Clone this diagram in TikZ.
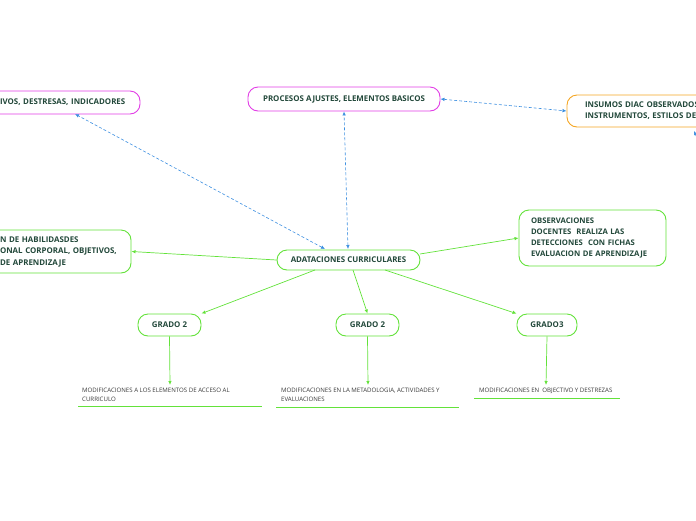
\documentclass[tikz,border=0pt]{standalone}
\usepackage{fontspec}
\setmainfont{Open Sans}
\usetikzlibrary{arrows.meta}
\definecolor{mag}{HTML}{E23DE6}
\definecolor{org}{HTML}{F5A623}
\definecolor{grn}{HTML}{63E23A}
\definecolor{blu}{HTML}{3C8FE0}
\definecolor{txt}{HTML}{22483A}
\definecolor{small}{HTML}{3A3A3A}
\tikzset{
  topic/.style={rounded corners=10pt, line width=0.9pt, fill=white, text=txt,
    font=\fontsize{7.9}{10}\selectfont\bfseries, inner ysep=0pt, align=left},
  magbox/.style={topic, draw=mag},
  orgbox/.style={topic, draw=org},
  grnbox/.style={topic, draw=grn},
  dashlink/.style={draw=blu, densely dashed, line width=0.6pt, {Latex[length=4pt,width=3.5pt]}-{Latex[length=4pt,width=3.5pt]}},
  solidlink/.style={draw=grn, line width=0.7pt, -{Latex[length=4pt,width=3.5pt]}},
  subtext/.style={text=small, font=\fontsize{6.1}{9}\selectfont, align=left, anchor=north west, inner sep=0pt},
  uline/.style={draw=grn, line width=1pt}
}
\begin{document}
\begin{tikzpicture}[x=1pt,y=-1pt]
\useasboundingbox (0,0) rectangle (696,520);
% nodes
\node[magbox, minimum width=152pt, minimum height=23pt, inner xsep=12pt, text width=128pt] (tl) at (64,102.5) {IVOS, DESTRESAS, INDICADORES};
\node[magbox, minimum width=192pt, minimum height=24pt, align=center] (proc) at (344,99) {PROCESOS AJUSTES, ELEMENTOS BASICOS};
\node[orgbox, minimum width=180pt, minimum height=32pt, inner xsep=18pt, text width=144pt, font=\fontsize{7.9}{11}\selectfont\bfseries] (ins) at (657,111) {INSUMOS DIAC OBSERVADOS\\INSTRUMENTOS, ESTILOS DE};
\node[grnbox, minimum width=145pt, minimum height=43pt, inner xsep=14pt, text width=117pt, font=\fontsize{7.9}{11.5}\selectfont\bfseries] (lft) at (58.5,251.5) {N DE HABILIDASDES\\ONAL CORPORAL, OBJETIVOS,\\DE APRENDIZAJE};
\node[grnbox, minimum width=143pt, minimum height=20pt, align=center] (ada) at (348.5,260) {ADATACIONES CURRICULARES};
\node[grnbox, minimum width=147pt, minimum height=56pt, inner xsep=12pt, text width=123pt, font=\fontsize{7.7}{11.3}\selectfont\bfseries] (obs) at (592.5,238) {OBSERVACIONES\\DOCENTES\ \ REALIZA LAS\\DETECCIONES\ \ CON FICHAS\\EVALUACION DE APRENDIZAJE};
\node[grnbox, minimum width=63pt, minimum height=22pt, align=center] (g1) at (169.5,325) {GRADO 2};
\node[grnbox, minimum width=63pt, minimum height=22pt, align=center] (g2) at (367.5,325) {GRADO 2};
\node[grnbox, minimum width=60pt, minimum height=22pt, align=center] (g3) at (547,325) {GRADO3};
% sub texts
\node[subtext] (s1) at (82,387.5) {MODIFICACIONES A LOS ELEMENTOS DE ACCESO AL\\CURRICULO};
\node[subtext] (s2) at (281,387.5) {MODIFICACIONES EN LA METADOLOGIA, ACTIVIDADES Y\\EVALUACIONES};
\node[subtext] (s3) at (479,387.5) {MODIFICACIONES EN\ \ OBJECTIVO Y DESTREZAS};
\coordinate (u1a) at (78,406); \coordinate (u1b) at (262,406);
\coordinate (u2a) at (276,407); \coordinate (u2b) at (459,407);
\coordinate (u3a) at (474,398); \coordinate (u3b) at (620,398);
\draw[uline] (u1a) -- (u1b);
\draw[uline] (u2a) -- (u2b);
\draw[uline] (u3a) -- (u3b);
% dashed links
\coordinate (adaA) at (325,249);
\coordinate (adaB) at (348,249);
\coordinate (tlB) at (75,114);
\draw[dashlink] (adaA) -- (tlB);
\draw[dashlink] (adaB) -- (proc.south);
\draw[dashlink] (proc.east) -- (ins.west);
\coordinate (offcan) at (702,150);
\coordinate (insB) at (694,131);
\draw[draw=blu, densely dashed, line width=0.6pt, -{Latex[length=4pt,width=3.5pt]}] (offcan) -- (insB);
% solid links
\coordinate (adaR) at (420,254);
\coordinate (adaS1) at (315,270);
\coordinate (adaS2) at (353,270);
\coordinate (adaS3) at (385,270);
\draw[solidlink] (ada.west) -- (lft.east);
\draw[solidlink] (adaR) -- (obs.west);
\draw[solidlink] (adaS1) -- (g1.north east);
\draw[solidlink] (adaS2) -- (g2.north);
\draw[solidlink] (adaS3) -- (g3.north west);
\coordinate (e1) at (170,385); \coordinate (e2) at (368,385); \coordinate (e3) at (546,385);
\draw[solidlink] (g1.south) -- (e1);
\draw[solidlink] (g2.south) -- (e2);
\draw[solidlink] (g3.south) -- (e3);
\end{tikzpicture}
\end{document}
